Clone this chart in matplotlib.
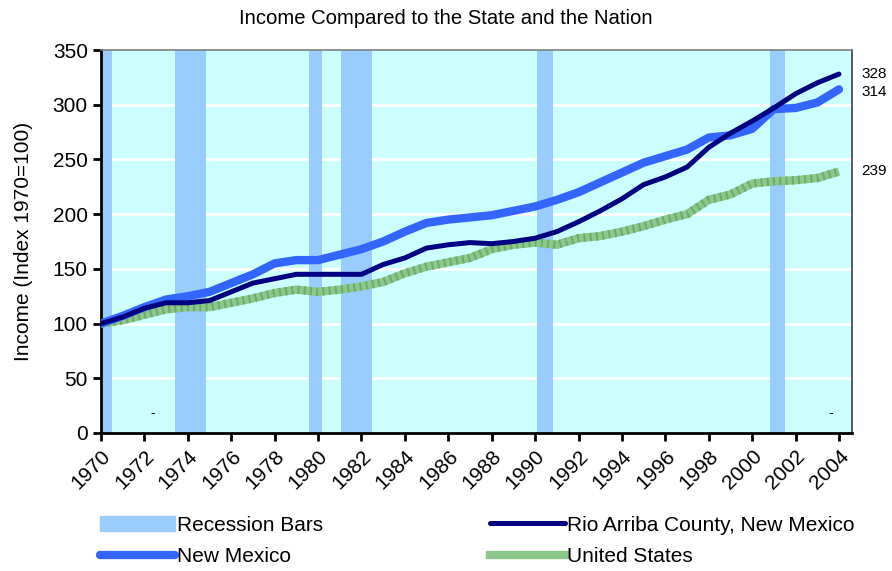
import numpy as np
import matplotlib
matplotlib.use("Agg")
import matplotlib.pyplot as plt
from matplotlib.patches import Patch
from matplotlib.lines import Line2D

plt.rcParams['font.family'] = ['Liberation Sans', 'DejaVu Sans']

years = list(range(1970, 2005))

rio_arriba = [100, 106, 114, 119, 119, 121, 129, 137, 141, 145,
              145, 145, 145, 154, 160, 169, 172, 174, 173, 175,
              178, 184, 193, 203, 214, 227, 234, 243, 261, 274,
              285, 297, 310, 320, 328]
new_mexico = [100, 107, 115, 122, 125, 129, 137, 145, 155, 158,
              158, 163, 168, 175, 184, 192, 195, 197, 199, 203,
              207, 213, 220, 229, 238, 247, 253, 259, 270, 272,
              278, 296, 297, 302, 314]
united_states = [100, 103, 108, 113, 115, 115, 119, 123, 128, 131,
                 129, 131, 134, 138, 146, 152, 156, 160, 168, 172,
                 174, 172, 178, 180, 184, 189, 195, 200, 213, 218,
                 228, 230, 231, 233, 239]

# recession bars (start, end) in fractional years
recessions = [(1970.0, 1970.5), (1973.4, 1974.85), (1979.6, 1980.2),
              (1981.05, 1982.5), (1990.1, 1990.83), (2000.8, 2001.52)]

end_labels = ["328", "314", "239"]

fig = plt.figure(figsize=(8.92, 5.71), dpi=100)
ax = fig.add_axes([101/892, 138/571, 751/892, 383/571])
ax.set_facecolor('#CCFFFF')

for s, e in recessions:
    ax.axvspan(s, e, color='#99CCFF', lw=0, zorder=1)

for v in range(50, 350, 50):
    ax.axhline(v, color='white', lw=2, zorder=0.5)

ax.plot(years, united_states, color='#8CC88C', lw=6, solid_capstyle='butt', zorder=3)
ax.plot(years, united_states, color='#6AAE6A', lw=6, ls=(0, (0.25, 0.5)), zorder=3.1)
ax.plot(years, new_mexico, color='#3366FF', lw=6, solid_capstyle='round', zorder=4)
ax.plot(years, rio_arriba, color='#000080', lw=3.6, solid_capstyle='round', zorder=5)

ax.set_xlim(1970, 2004.6)
ax.set_ylim(0, 350)
ax.set_yticks(range(0, 351, 50))
ax.set_xticks(range(1970, 2005, 2))
ax.set_xticklabels([str(y) for y in range(1970, 2005, 2)], rotation=45,
                   ha='right', rotation_mode='anchor')
ax.tick_params(axis='both', labelsize=15, width=2, length=6, direction='out')
ax.set_ylabel('Income (Index 1970=100)', fontsize=15, labelpad=14)

for side in ['left', 'bottom']:
    ax.spines[side].set_linewidth(2)
    ax.spines[side].set_color('black')
ax.spines['top'].set_color('#808080')
ax.spines['top'].set_linewidth(1.2)
ax.spines['right'].set_color('#404040')
ax.spines['right'].set_linewidth(1.2)

# end labels
for lab, val in zip(end_labels, [rio_arriba[-1], new_mexico[-1] - 2, united_states[-1]]):
    ax.text(1.012, val, lab, transform=ax.get_yaxis_transform(), fontsize=11,
            va='center', ha='left')

ax.text(1972.4, 18, '-', fontsize=10, ha='center', va='center')
ax.text(2003.6, 18, '-', fontsize=10, ha='center', va='center')

fig.suptitle('Income Compared to the State and the Nation', fontsize=14.6,
             x=0.5, y=0.985)

handles = [Patch(color='#99CCFF'),
           Line2D([], [], color='#3366FF', lw=6, solid_capstyle='round'),
           Line2D([], [], color='#000080', lw=3.6, solid_capstyle='round'),
           Line2D([], [], color='#8CC88C', lw=6)]
labels = ['Recession Bars', 'New Mexico', 'Rio Arriba County, New Mexico', 'United States']
fig.legend(handles, labels, loc='lower left', bbox_to_anchor=(0.103, -0.006), ncol=2,
           frameon=False, fontsize=15, handlelength=3.6, handletextpad=0.1,
           columnspacing=8.0, labelspacing=0.6, borderaxespad=0)

fig.savefig('out.png', dpi=100)
